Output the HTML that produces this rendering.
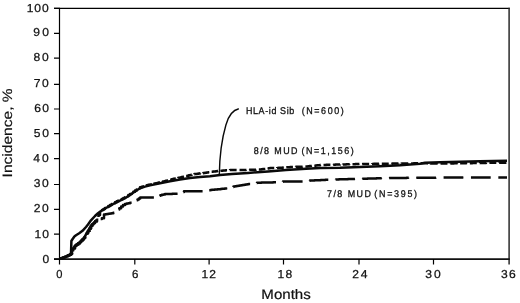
<!DOCTYPE html>
<html><head><meta charset="utf-8"><style>
html,body{margin:0;padding:0;background:#fff;width:520px;height:303px;overflow:hidden}
svg{display:block;will-change:transform}
text{font-family:"Liberation Sans",sans-serif;fill:#111;text-rendering:geometricPrecision}
</style></head><body>
<svg width="520" height="303" viewBox="0 0 520 303">
<rect width="520" height="303" fill="#fff"/>
<g fill="none" stroke-linecap="butt">
<path d="M54,8.45H509.8" stroke="#000" stroke-width="1.2"/>
<path d="M59.5,7.85V259.9" stroke="#000" stroke-width="1.2"/>
<path d="M509.1,7.85V264.6" stroke="#2a2a2a" stroke-width="1.5"/>
<path d="M54,259.05H509.8" stroke="#111" stroke-width="1.8"/>
<path d="M54,8.45H59.5M54,33.35H59.5M54,58.10H59.5M54,84.40H59.5M54,109.00H59.5M54,133.55H59.5M54,158.70H59.5M54,184.50H59.5M54,209.40H59.5M54,234.20H59.5M54,259.00H59.5M59.5,259V264.6M134.8,259V264.6M209.1,259V264.6M283.5,259V264.6M359.0,259V264.6M433.5,259V264.6" stroke="#000" stroke-width="1.2"/>
</g>
<g fill="none" stroke="#0a0a0a" stroke-width="2.5" stroke-linejoin="round" stroke-linecap="butt">
<path d="M59.50,258.50 L60.75,258.50 L60.75,258.25 L62.00,258.25 L62.00,258.00 L63.33,258.00 L63.33,257.47 L64.67,257.47 L64.67,256.93 L66.00,256.93 L66.00,256.40 L67.75,256.40 L67.75,255.60 L69.50,255.60 L69.50,254.80 L71.00,254.80 L71.00,254.00 L72.00,254.00 L72.00,252.00 L73.20,252.00 L73.20,248.50 L75.00,248.50 L75.00,245.80 L76.67,245.80 L76.67,244.50 L78.33,244.50 L78.33,243.20 L80.00,243.20 L80.00,241.90 L81.33,241.90 L81.33,240.53 L82.67,240.53 L82.67,239.17 L84.00,239.17 L84.00,237.80 L85.33,237.80 L85.33,235.53 L86.67,235.53 L86.67,233.27 L88.00,233.27 L88.00,231.00 L89.50,231.00 L89.50,228.40 L91.00,228.40 L91.00,225.80 L92.33,225.80 L92.33,224.37 L93.67,224.37 L93.67,222.93 L95.00,222.93 L95.00,221.50 L97.00,221.50 L97.00,219.80 L98.50,219.80 L98.50,219.40 L100.00,219.40 L100.00,219.00 L101.90,219.00 L101.90,218.30 L104.00,218.30 L104.00,214.50 L105.50,214.50 L105.50,214.28 L107.00,214.28 L107.00,214.05 L108.50,214.05 L108.50,213.82 L110.00,213.82 L110.00,213.60 L111.67,213.60 L111.67,213.17 L113.33,213.17 L113.33,212.73 L115.00,212.73 L115.00,212.30 L116.50,212.30 L116.50,211.00 L117.90,211.00 L117.90,209.60 L119.30,209.60 L119.30,208.20 L121.15,208.20 L121.15,206.55 L123.00,206.55 L123.00,204.90 L125.00,204.90 L125.00,204.10 L126.67,204.10 L126.67,203.62 L128.35,203.62 L128.35,203.15 L130.02,203.15 L130.02,202.67 L131.70,202.67 L131.70,202.20 L133.15,202.20 L133.15,201.52 L134.60,201.52 L134.60,200.85 L136.05,200.85 L136.05,200.18 L137.50,200.18 L137.50,199.50 L138.85,199.50 L138.85,198.50 L140.20,198.50 L140.20,197.50 L141.78,197.50 L143.36,197.50 L144.93,197.50 L146.51,197.50 L148.09,197.50 L149.67,197.50 L151.24,197.50 L152.82,197.50 L154.40,197.50 L155.88,197.50 L155.88,196.93 L157.35,196.93 L157.35,196.35 L158.83,196.35 L158.83,195.77 L160.30,195.77 L160.30,195.20 L161.87,195.20 L161.87,194.83 L163.43,194.83 L163.43,194.47 L165.00,194.47 L165.00,194.10 L166.44,194.10 L166.44,194.04 L167.89,194.04 L167.89,193.99 L169.33,193.99 L169.33,193.93 L170.78,193.93 L170.78,193.88 L172.22,193.88 L172.22,193.82 L173.67,193.82 L173.67,193.77 L175.11,193.77 L175.11,193.71 L176.56,193.71 L176.56,193.66 L178.00,193.66 L178.00,193.60 L179.50,193.60 L179.50,193.03 L181.00,193.03 L181.00,192.45 L182.50,192.45 L182.50,191.88 L184.00,191.88 L184.00,191.30 L185.52,191.30 L187.05,191.30 L188.57,191.30 L190.09,191.30 L191.62,191.30 L193.14,191.30 L194.66,191.30 L196.18,191.30 L197.71,191.30 L199.23,191.30 L200.75,191.30 L202.28,191.30 L203.80,191.30 L205.45,191.30 L205.45,190.98 L207.10,190.98 L207.10,190.65 L208.75,190.65 L208.75,190.32 L210.40,190.32 L210.40,190.00 L211.84,190.00 L211.84,189.86 L213.28,189.86 L213.28,189.72 L214.72,189.72 L214.72,189.57 L216.17,189.57 L216.17,189.43 L217.61,189.43 L217.61,189.29 L219.05,189.29 L219.05,189.15 L220.49,189.15 L220.49,189.01 L221.93,189.01 L221.93,188.87 L223.38,188.87 L223.38,188.73 L224.82,188.73 L224.82,188.58 L226.26,188.58 L226.26,188.44 L227.70,188.44 L227.70,188.30 L229.15,188.30 L229.15,187.85 L230.60,187.85 L230.60,187.40 L232.05,187.40 L232.05,186.95 L233.50,186.95 L233.50,186.50 L235.02,186.50 L235.02,186.25 L236.54,186.25 L236.54,185.99 L238.05,185.99 L238.05,185.74 L239.57,185.74 L239.57,185.48 L241.09,185.48 L241.09,185.23 L242.61,185.23 L242.61,184.97 L244.13,184.97 L244.13,184.72 L245.65,184.72 L245.65,184.46 L247.16,184.46 L247.16,184.21 L248.68,184.21 L248.68,183.95 L250.20,183.95 L250.20,183.70 L251.56,183.70 L251.56,183.50 L252.92,183.50 L252.92,183.30 L254.28,183.30 L254.28,183.10 L255.64,183.10 L255.64,182.90 L257.00,182.90 L257.00,182.70 L258.46,182.70 L258.46,182.67 L259.92,182.67 L259.92,182.64 L261.38,182.64 L261.38,182.61 L262.85,182.61 L262.85,182.58 L264.31,182.58 L264.31,182.55 L265.77,182.55 L265.77,182.52 L267.23,182.52 L267.23,182.48 L268.69,182.48 L268.69,182.45 L270.15,182.45 L270.15,182.42 L271.62,182.42 L271.62,182.39 L273.08,182.39 L273.08,182.36 L274.54,182.36 L274.54,182.33 L276.00,182.33 L276.00,182.30 L277.40,182.30 L277.40,182.14 L278.80,182.14 L278.80,181.98 L280.20,181.98 L280.20,181.82 L281.60,181.82 L281.60,181.66 L283.00,181.66 L283.00,181.50 L284.54,181.50 L286.08,181.50 L287.62,181.50 L289.17,181.50 L290.71,181.50 L292.25,181.50 L293.79,181.50 L295.33,181.50 L296.88,181.50 L298.42,181.50 L299.96,181.50 L301.50,181.50 L302.92,181.50 L302.92,181.35 L304.33,181.35 L304.33,181.20 L305.75,181.20 L305.75,181.05 L307.17,181.05 L307.17,180.90 L308.58,180.90 L308.58,180.75 L310.00,180.75 L310.00,180.60 L311.54,180.60 L311.54,180.52 L313.08,180.52 L313.08,180.45 L314.62,180.45 L314.62,180.37 L316.15,180.37 L316.15,180.29 L317.69,180.29 L317.69,180.22 L319.23,180.22 L319.23,180.14 L320.77,180.14 L320.77,180.06 L322.31,180.06 L322.31,179.98 L323.85,179.98 L323.85,179.91 L325.38,179.91 L325.38,179.83 L326.92,179.83 L326.92,179.75 L328.46,179.75 L328.46,179.68 L330.00,179.68 L330.00,179.60 L331.50,179.60 L331.50,179.56 L333.00,179.56 L333.00,179.52 L334.50,179.52 L334.50,179.48 L336.00,179.48 L336.00,179.44 L337.50,179.44 L337.50,179.40 L339.00,179.40 L339.00,179.36 L340.50,179.36 L340.50,179.32 L342.00,179.32 L342.00,179.28 L343.50,179.28 L343.50,179.24 L345.00,179.24 L345.00,179.20 L346.50,179.20 L346.50,179.16 L348.00,179.16 L348.00,179.12 L349.50,179.12 L349.50,179.08 L351.00,179.08 L351.00,179.04 L352.50,179.04 L352.50,179.00 L354.00,179.00 L354.00,178.96 L355.50,178.96 L355.50,178.92 L357.00,178.92 L357.00,178.88 L358.50,178.88 L358.50,178.84 L360.00,178.84 L360.00,178.80 L361.50,178.80 L361.50,178.76 L363.00,178.76 L363.00,178.72 L364.50,178.72 L364.50,178.68 L366.00,178.68 L366.00,178.64 L367.50,178.64 L367.50,178.60 L369.00,178.60 L369.00,178.56 L370.50,178.56 L370.50,178.52 L372.00,178.52 L372.00,178.48 L373.50,178.48 L373.50,178.44 L375.00,178.44 L375.00,178.40 L376.50,178.40 L376.50,178.36 L378.00,178.36 L378.00,178.32 L379.50,178.32 L379.50,178.28 L381.00,178.28 L381.00,178.24 L382.50,178.24 L382.50,178.20 L384.00,178.20 L384.00,178.16 L385.50,178.16 L385.50,178.12 L387.00,178.12 L387.00,178.08 L388.50,178.08 L388.50,178.04 L390.00,178.04 L390.00,178.00 L391.52,178.00 L391.52,177.99 L393.03,177.99 L393.03,177.98 L394.55,177.98 L394.55,177.96 L396.06,177.96 L396.06,177.95 L397.58,177.95 L397.58,177.94 L399.09,177.94 L399.09,177.93 L400.61,177.93 L400.61,177.92 L402.12,177.92 L402.12,177.90 L403.64,177.90 L403.64,177.89 L405.15,177.89 L405.15,177.88 L406.67,177.88 L406.67,177.87 L408.18,177.87 L408.18,177.85 L409.70,177.85 L409.70,177.84 L411.21,177.84 L411.21,177.83 L412.73,177.83 L412.73,177.82 L414.24,177.82 L414.24,177.81 L415.76,177.81 L415.76,177.79 L417.27,177.79 L417.27,177.78 L418.79,177.78 L418.79,177.77 L420.30,177.77 L420.30,177.76 L421.82,177.76 L421.82,177.75 L423.33,177.75 L423.33,177.73 L424.85,177.73 L424.85,177.72 L426.36,177.72 L426.36,177.71 L427.88,177.71 L427.88,177.70 L429.39,177.70 L429.39,177.68 L430.91,177.68 L430.91,177.67 L432.42,177.67 L432.42,177.66 L433.94,177.66 L433.94,177.65 L435.45,177.65 L435.45,177.64 L436.97,177.64 L436.97,177.62 L438.48,177.62 L438.48,177.61 L440.00,177.61 L440.00,177.60 L441.49,177.60 L441.49,177.60 L442.98,177.60 L442.98,177.59 L444.47,177.59 L444.47,177.59 L445.96,177.59 L445.96,177.58 L447.44,177.58 L447.44,177.58 L448.93,177.58 L448.93,177.57 L450.42,177.57 L450.42,177.57 L451.91,177.57 L451.91,177.56 L453.40,177.56 L453.40,177.56 L454.89,177.56 L454.89,177.56 L456.38,177.56 L456.38,177.55 L457.87,177.55 L457.87,177.55 L459.36,177.55 L459.36,177.54 L460.84,177.54 L460.84,177.54 L462.33,177.54 L462.33,177.53 L463.82,177.53 L463.82,177.53 L465.31,177.53 L465.31,177.52 L466.80,177.52 L466.80,177.52 L468.29,177.52 L468.29,177.52 L469.78,177.52 L469.78,177.51 L471.27,177.51 L471.27,177.51 L472.76,177.51 L472.76,177.50 L474.24,177.50 L474.24,177.50 L475.73,177.50 L475.73,177.49 L477.22,177.49 L477.22,177.49 L478.71,177.49 L478.71,177.48 L480.20,177.48 L480.20,177.48 L481.69,177.48 L481.69,177.48 L483.18,177.48 L483.18,177.47 L484.67,177.47 L484.67,177.47 L486.16,177.47 L486.16,177.46 L487.64,177.46 L487.64,177.46 L489.13,177.46 L489.13,177.45 L490.62,177.45 L490.62,177.45 L492.11,177.45 L492.11,177.44 L493.60,177.44 L493.60,177.44 L495.09,177.44 L495.09,177.44 L496.58,177.44 L496.58,177.43 L498.07,177.43 L498.07,177.43 L499.56,177.43 L499.56,177.42 L501.04,177.42 L501.04,177.42 L502.53,177.42 L502.53,177.41 L504.02,177.41 L504.02,177.41 L505.51,177.41 L505.51,177.40 L507.00,177.40 L507.00,177.40" stroke-dasharray="19.8 7.649999999999999" stroke-dashoffset="1.66"/>
<path d="M59.50,258.50 L62.00,258.00 L66.00,256.40 L69.50,254.80 L71.00,254.00 L71.40,241.00 L72.30,239.50 L74.40,236.50 L76.00,235.30 L79.20,233.30 L82.50,230.80 L86.00,227.00 L88.00,224.50 L91.00,220.30 L95.00,216.00 L98.00,213.20 L100.00,211.80 L102.00,210.50 L105.00,208.50 L110.00,205.80 L115.00,203.00 L120.00,200.60 L125.00,198.20 L130.00,194.90 L135.00,191.50 L140.00,188.30 L145.00,186.60 L150.00,185.40 L160.00,183.30 L170.00,181.20 L180.00,179.50 L190.00,178.00 L200.00,176.90 L210.00,176.20 L220.00,175.00 L232.00,174.00 L248.00,173.00 L268.00,171.40 L286.00,169.90 L306.00,168.70 L320.00,167.90 L340.00,167.70 L360.00,167.00 L380.00,166.30 L400.00,165.30 L420.00,163.80 L425.00,162.80 L440.00,162.30 L460.00,161.80 L480.00,161.20 L507.00,160.80"/>
<path d="M59.50,258.50 L60.75,258.50 L60.75,258.25 L62.00,258.25 L62.00,258.00 L63.33,258.00 L63.33,257.47 L64.67,257.47 L64.67,256.93 L66.00,256.93 L66.00,256.40 L67.75,256.40 L67.75,255.60 L69.50,255.60 L69.50,254.80 L71.00,254.80 L71.00,254.00 L72.00,254.00 L72.00,252.00 L73.20,252.00 L73.20,248.50 L75.00,248.50 L75.00,245.80 L76.67,245.80 L76.67,244.50 L78.33,244.50 L78.33,243.20 L80.00,243.20 L80.00,241.90 L81.33,241.90 L81.33,240.53 L82.67,240.53 L82.67,239.17 L84.00,239.17 L84.00,237.80 L85.33,237.80 L85.33,235.53 L86.67,235.53 L86.67,233.27 L88.00,233.27 L88.00,231.00 L89.50,231.00 L89.50,228.40 L91.00,228.40 L91.00,225.80 L92.33,225.80 L92.33,224.37 L93.67,224.37 L93.67,222.93 L95.00,222.93 L95.00,221.50 L97.00,221.50 L97.00,219.80 L98.50,219.80 L98.50,215.00 L100.00,215.00 L100.00,212.00 L102.00,212.00 L102.00,210.00 L103.50,210.00 L103.50,208.95 L105.00,208.95 L105.00,207.90 L106.67,207.90 L106.67,206.93 L108.33,206.93 L108.33,205.97 L110.00,205.97 L110.00,205.00 L111.67,205.00 L111.67,204.07 L113.33,204.07 L113.33,203.13 L115.00,203.13 L115.00,202.20 L116.67,202.20 L116.67,201.37 L118.33,201.37 L118.33,200.53 L120.00,200.53 L120.00,199.70 L121.67,199.70 L121.67,198.90 L123.33,198.90 L123.33,198.10 L125.00,198.10 L125.00,197.30 L126.67,197.30 L126.67,196.17 L128.33,196.17 L128.33,195.03 L130.00,195.03 L130.00,193.90 L131.67,193.90 L131.67,192.77 L133.33,192.77 L133.33,191.63 L135.00,191.63 L135.00,190.50 L136.67,190.50 L136.67,189.40 L138.33,189.40 L138.33,188.30 L140.00,188.30 L140.00,187.20 L141.67,187.20 L141.67,186.67 L143.33,186.67 L143.33,186.13 L145.00,186.13 L145.00,185.60 L146.67,185.60 L146.67,185.23 L148.33,185.23 L148.33,184.87 L150.00,184.87 L150.00,184.50 L151.43,184.50 L151.43,184.19 L152.86,184.19 L152.86,183.87 L154.29,183.87 L154.29,183.56 L155.71,183.56 L155.71,183.24 L157.14,183.24 L157.14,182.93 L158.57,182.93 L158.57,182.61 L160.00,182.61 L160.00,182.30 L161.43,182.30 L161.43,181.94 L162.86,181.94 L162.86,181.59 L164.29,181.59 L164.29,181.23 L165.71,181.23 L165.71,180.87 L167.14,180.87 L167.14,180.51 L168.57,180.51 L168.57,180.16 L170.00,180.16 L170.00,179.80 L171.67,179.80 L171.67,179.33 L173.33,179.33 L173.33,178.87 L175.00,178.87 L175.00,178.40 L176.67,178.40 L176.67,178.07 L178.33,178.07 L178.33,177.73 L180.00,177.73 L180.00,177.40 L181.50,177.40 L181.50,177.05 L183.00,177.05 L183.00,176.70 L184.50,176.70 L184.50,176.35 L186.00,176.35 L186.00,176.00 L187.40,176.00 L187.40,175.66 L188.80,175.66 L188.80,175.32 L190.20,175.32 L190.20,174.98 L191.60,174.98 L191.60,174.64 L193.00,174.64 L193.00,174.30 L194.40,174.30 L194.40,174.10 L195.80,174.10 L195.80,173.90 L197.20,173.90 L197.20,173.70 L198.60,173.70 L198.60,173.50 L200.00,173.50 L200.00,173.30 L201.67,173.30 L201.67,173.13 L203.33,173.13 L203.33,172.97 L205.00,172.97 L205.00,172.80 L206.60,172.80 L206.60,172.56 L208.20,172.56 L208.20,172.32 L209.80,172.32 L209.80,172.08 L211.40,172.08 L211.40,171.84 L213.00,171.84 L213.00,171.60 L214.40,171.60 L214.40,171.44 L215.80,171.44 L215.80,171.28 L217.20,171.28 L217.20,171.12 L218.60,171.12 L218.60,170.96 L220.00,170.96 L220.00,170.80 L221.43,170.80 L221.43,170.69 L222.86,170.69 L222.86,170.57 L224.29,170.57 L224.29,170.46 L225.71,170.46 L225.71,170.34 L227.14,170.34 L227.14,170.23 L228.57,170.23 L228.57,170.11 L230.00,170.11 L230.00,170.00 L231.43,170.00 L232.86,170.00 L234.29,170.00 L235.71,170.00 L237.14,170.00 L238.57,170.00 L240.00,170.00 L241.43,170.00 L241.43,169.97 L242.86,169.97 L242.86,169.94 L244.29,169.94 L244.29,169.91 L245.71,169.91 L245.71,169.89 L247.14,169.89 L247.14,169.86 L248.57,169.86 L248.57,169.83 L250.00,169.83 L250.00,169.80 L251.43,169.80 L251.43,169.76 L252.86,169.76 L252.86,169.71 L254.29,169.71 L254.29,169.67 L255.71,169.67 L255.71,169.63 L257.14,169.63 L257.14,169.59 L258.57,169.59 L258.57,169.54 L260.00,169.54 L260.00,169.50 L261.43,169.50 L261.43,169.30 L262.86,169.30 L262.86,169.10 L264.29,169.10 L264.29,168.90 L265.71,168.90 L265.71,168.70 L267.14,168.70 L267.14,168.50 L268.57,168.50 L268.57,168.30 L270.00,168.30 L270.00,168.10 L271.43,168.10 L271.43,168.06 L272.86,168.06 L272.86,168.01 L274.29,168.01 L274.29,167.97 L275.71,167.97 L275.71,167.93 L277.14,167.93 L277.14,167.89 L278.57,167.89 L278.57,167.84 L280.00,167.84 L280.00,167.80 L281.44,167.80 L281.44,167.69 L282.89,167.69 L282.89,167.58 L284.33,167.58 L284.33,167.47 L285.78,167.47 L285.78,167.36 L287.22,167.36 L287.22,167.24 L288.67,167.24 L288.67,167.13 L290.11,167.13 L290.11,167.02 L291.56,167.02 L291.56,166.91 L293.00,166.91 L293.00,166.80 L294.50,166.80 L294.50,166.78 L296.00,166.78 L296.00,166.75 L297.50,166.75 L297.50,166.72 L299.00,166.72 L299.00,166.70 L300.50,166.70 L300.50,166.68 L302.00,166.68 L302.00,166.65 L303.50,166.65 L303.50,166.62 L305.00,166.62 L305.00,166.60 L306.50,166.60 L306.50,166.44 L308.00,166.44 L308.00,166.28 L309.50,166.28 L309.50,166.12 L311.00,166.12 L311.00,165.96 L312.50,165.96 L312.50,165.80 L314.00,165.80 L314.00,165.64 L315.50,165.64 L315.50,165.48 L317.00,165.48 L317.00,165.32 L318.50,165.32 L318.50,165.16 L320.00,165.16 L320.00,165.00 L321.54,165.00 L321.54,164.96 L323.08,164.96 L323.08,164.92 L324.62,164.92 L324.62,164.88 L326.15,164.88 L326.15,164.85 L327.69,164.85 L327.69,164.81 L329.23,164.81 L329.23,164.77 L330.77,164.77 L330.77,164.73 L332.31,164.73 L332.31,164.69 L333.85,164.69 L333.85,164.65 L335.38,164.65 L335.38,164.62 L336.92,164.62 L336.92,164.58 L338.46,164.58 L338.46,164.54 L340.00,164.54 L340.00,164.50 L341.54,164.50 L341.54,164.46 L343.08,164.46 L343.08,164.42 L344.62,164.42 L344.62,164.38 L346.15,164.38 L346.15,164.35 L347.69,164.35 L347.69,164.31 L349.23,164.31 L349.23,164.27 L350.77,164.27 L350.77,164.23 L352.31,164.23 L352.31,164.19 L353.85,164.19 L353.85,164.15 L355.38,164.15 L355.38,164.12 L356.92,164.12 L356.92,164.08 L358.46,164.08 L358.46,164.04 L360.00,164.04 L360.00,164.00 L361.54,164.00 L361.54,163.98 L363.08,163.98 L363.08,163.97 L364.62,163.97 L364.62,163.95 L366.15,163.95 L366.15,163.94 L367.69,163.94 L367.69,163.92 L369.23,163.92 L369.23,163.91 L370.77,163.91 L370.77,163.89 L372.31,163.89 L372.31,163.88 L373.85,163.88 L373.85,163.86 L375.38,163.86 L375.38,163.85 L376.92,163.85 L376.92,163.83 L378.46,163.83 L378.46,163.82 L380.00,163.82 L380.00,163.80 L381.54,163.80 L381.54,163.78 L383.08,163.78 L383.08,163.75 L384.62,163.75 L384.62,163.73 L386.15,163.73 L386.15,163.71 L387.69,163.71 L387.69,163.68 L389.23,163.68 L389.23,163.66 L390.77,163.66 L390.77,163.64 L392.31,163.64 L392.31,163.62 L393.85,163.62 L393.85,163.59 L395.38,163.59 L395.38,163.57 L396.92,163.57 L396.92,163.55 L398.46,163.55 L398.46,163.52 L400.00,163.52 L400.00,163.50 L401.54,163.50 L401.54,163.48 L403.08,163.48 L403.08,163.47 L404.62,163.47 L404.62,163.45 L406.15,163.45 L406.15,163.44 L407.69,163.44 L407.69,163.42 L409.23,163.42 L409.23,163.41 L410.77,163.41 L410.77,163.39 L412.31,163.39 L412.31,163.38 L413.85,163.38 L413.85,163.36 L415.38,163.36 L415.38,163.35 L416.92,163.35 L416.92,163.33 L418.46,163.33 L418.46,163.32 L420.00,163.32 L420.00,163.30 L421.54,163.30 L421.54,163.32 L423.08,163.32 L423.08,163.33 L424.62,163.33 L424.62,163.35 L426.15,163.35 L426.15,163.36 L427.69,163.36 L427.69,163.38 L429.23,163.38 L429.23,163.39 L430.77,163.39 L430.77,163.41 L432.31,163.41 L432.31,163.42 L433.85,163.42 L433.85,163.44 L435.38,163.44 L435.38,163.45 L436.92,163.45 L436.92,163.47 L438.46,163.47 L438.46,163.48 L440.00,163.48 L440.00,163.50 L441.54,163.50 L441.54,163.48 L443.08,163.48 L443.08,163.47 L444.62,163.47 L444.62,163.45 L446.15,163.45 L446.15,163.44 L447.69,163.44 L447.69,163.42 L449.23,163.42 L449.23,163.41 L450.77,163.41 L450.77,163.39 L452.31,163.39 L452.31,163.38 L453.85,163.38 L453.85,163.36 L455.38,163.36 L455.38,163.35 L456.92,163.35 L456.92,163.33 L458.46,163.33 L458.46,163.32 L460.00,163.32 L460.00,163.30 L461.54,163.30 L461.54,163.28 L463.08,163.28 L463.08,163.25 L464.62,163.25 L464.62,163.23 L466.15,163.23 L466.15,163.21 L467.69,163.21 L467.69,163.18 L469.23,163.18 L469.23,163.16 L470.77,163.16 L470.77,163.14 L472.31,163.14 L472.31,163.12 L473.85,163.12 L473.85,163.09 L475.38,163.09 L475.38,163.07 L476.92,163.07 L476.92,163.05 L478.46,163.05 L478.46,163.02 L480.00,163.02 L480.00,163.00 L481.50,163.00 L481.50,162.98 L483.00,162.98 L483.00,162.96 L484.50,162.96 L484.50,162.93 L486.00,162.93 L486.00,162.91 L487.50,162.91 L487.50,162.89 L489.00,162.89 L489.00,162.87 L490.50,162.87 L490.50,162.84 L492.00,162.84 L492.00,162.82 L493.50,162.82 L493.50,162.80 L495.00,162.80 L495.00,162.78 L496.50,162.78 L496.50,162.76 L498.00,162.76 L498.00,162.73 L499.50,162.73 L499.50,162.71 L501.00,162.71 L501.00,162.69 L502.50,162.69 L502.50,162.67 L504.00,162.67 L504.00,162.64 L505.50,162.64 L505.50,162.62 L507.00,162.62 L507.00,162.60" stroke-dasharray="7.0 2.9000000000000004" stroke-dashoffset="8.68"/>
<path d="M70.00,254.60 L72.00,252.00 L73.20,248.50 L75.00,245.80 L80.00,241.90 L84.00,237.80 L88.00,231.00 L91.00,225.80 L95.00,221.50 L97.00,219.80"/>
<path d="M219.3,175 C219.5,160 221.5,140 225.9,125 C229,114 233,110 238.8,108.8" stroke-width="1.4"/>
</g>
<text transform="translate(26.68,12.00) scale(1.05,1)" font-size="11.50" textLength="20.94" lengthAdjust="spacing" stroke="#111" stroke-width="0.25">100</text>
<text transform="translate(33.25,36.00) scale(1.05,1)" font-size="11.50" textLength="14.90" lengthAdjust="spacing" stroke="#111" stroke-width="0.25">90</text>
<text transform="translate(33.58,61.00) scale(1.05,1)" font-size="11.50" textLength="14.38" lengthAdjust="spacing" stroke="#111" stroke-width="0.25">80</text>
<text transform="translate(33.76,87.00) scale(1.05,1)" font-size="11.50" textLength="14.22" lengthAdjust="spacing" stroke="#111" stroke-width="0.25">70</text>
<text transform="translate(34.17,112.00) scale(1.05,1)" font-size="11.50" textLength="14.00" lengthAdjust="spacing" stroke="#111" stroke-width="0.25">60</text>
<text transform="translate(33.71,137.00) scale(1.05,1)" font-size="11.50" textLength="14.49" lengthAdjust="spacing" stroke="#111" stroke-width="0.25">50</text>
<text transform="translate(33.24,162.00) scale(1.05,1)" font-size="11.50" textLength="14.72" lengthAdjust="spacing" stroke="#111" stroke-width="0.25">40</text>
<text transform="translate(33.87,187.00) scale(1.05,1)" font-size="11.50" textLength="14.11" lengthAdjust="spacing" stroke="#111" stroke-width="0.25">30</text>
<text transform="translate(33.84,212.00) scale(1.05,1)" font-size="11.50" textLength="14.13" lengthAdjust="spacing" stroke="#111" stroke-width="0.25">20</text>
<text transform="translate(34.52,238.00) scale(1.05,1)" font-size="11.50" textLength="13.72" lengthAdjust="spacing" stroke="#111" stroke-width="0.25">10</text>
<text x="42.43" y="263.00" font-size="11.50" textLength="6.69" lengthAdjust="spacingAndGlyphs" stroke="#111" stroke-width="0.25">0</text>
<text x="56.30" y="278.00" font-size="11.50" textLength="6.19" lengthAdjust="spacingAndGlyphs" stroke="#111" stroke-width="0.25">0</text>
<text x="131.97" y="278.00" font-size="11.50" textLength="6.40" lengthAdjust="spacingAndGlyphs" stroke="#111" stroke-width="0.25">6</text>
<text transform="translate(201.52,278.00) scale(1.05,1)" font-size="11.50" textLength="13.66" lengthAdjust="spacing" stroke="#111" stroke-width="0.25">12</text>
<text transform="translate(277.38,278.00) scale(1.05,1)" font-size="11.50" textLength="14.23" lengthAdjust="spacing" stroke="#111" stroke-width="0.25">18</text>
<text transform="translate(352.27,278.00) scale(1.05,1)" font-size="11.50" textLength="14.51" lengthAdjust="spacing" stroke="#111" stroke-width="0.25">24</text>
<text transform="translate(425.36,278.00) scale(1.05,1)" font-size="11.50" textLength="14.64" lengthAdjust="spacing" stroke="#111" stroke-width="0.25">30</text>
<text transform="translate(501.07,278.00) scale(1.05,1)" font-size="11.50" textLength="13.95" lengthAdjust="spacing" stroke="#111" stroke-width="0.25">36</text>
<text x="261.36" y="299.00" font-size="13.80" textLength="49.40" lengthAdjust="spacingAndGlyphs" stroke="#111" stroke-width="0.2">Months</text>
<text transform="translate(11.60,177.39) rotate(-90)" font-size="13.60" textLength="89.01" lengthAdjust="spacingAndGlyphs" stroke="#111" stroke-width="0.15">Incidence, %</text>
<text transform="translate(245.92,114.00) scale(0.92,1)" font-size="9.70" textLength="52.54" lengthAdjust="spacing" stroke="#111" stroke-width="0.3">HLA-id Sib</text>
<text transform="translate(301.68,114.00) scale(0.92,1)" font-size="9.70" textLength="45.74" lengthAdjust="spacing" stroke="#111" stroke-width="0.3">(N=600)</text>
<text transform="translate(253.86,154.00) scale(0.92,1)" font-size="9.70" textLength="47.42" lengthAdjust="spacing" stroke="#111" stroke-width="0.3">8/8 MUD</text>
<text transform="translate(301.45,154.00) scale(0.92,1)" font-size="9.70" textLength="56.85" lengthAdjust="spacing" stroke="#111" stroke-width="0.3">(N=1,156)</text>
<text transform="translate(327.02,197.00) scale(0.92,1)" font-size="9.70" textLength="47.70" lengthAdjust="spacing" stroke="#111" stroke-width="0.3">7/8 MUD</text>
<text transform="translate(374.35,197.00) scale(0.92,1)" font-size="9.70" textLength="46.39" lengthAdjust="spacing" stroke="#111" stroke-width="0.3">(N=395)</text>
</svg>
</body></html>
